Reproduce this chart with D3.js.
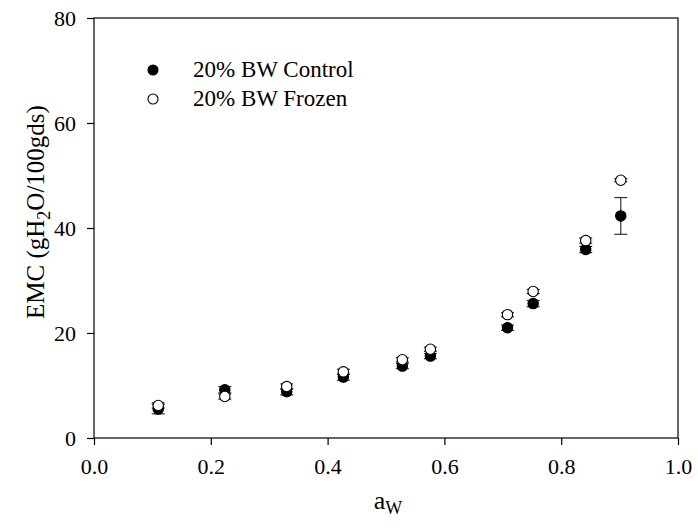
<!DOCTYPE html>
<html>
<head>
<meta charset="utf-8">
<script src="https://cdn.jsdelivr.net/npm/d3@7"></script>
<style>
  body { margin: 0; background: #fff; }
  svg { display: block; }
</style>
</head>
<body>
<div id="chart"></div>
<script>
// water activity for each measurement
const aw = [0.110, 0.224, 0.330, 0.427, 0.528, 0.576, 0.708, 0.752, 0.842, 0.902];

// EMC values (gH2O/100gds) and their error bars
const controlEmc = [5.5, 9.2, 8.8, 11.6, 13.7, 15.6, 21.0, 25.6, 35.9, 42.3];
const controlErr = [0.9, 0.6, 0.6, 0.6, 0.5, 0.5, 0.5, 0.6, 0.6, 3.5];
const frozenEmc = [6.2, 7.9, 9.8, 12.6, 14.9, 16.9, 23.5, 27.9, 37.6, 49.1];
const frozenErr = [0.5, 0.5, 0.5, 0.5, 0.4, 0.4, 0.4, 0.4, 0.5, 0.3];

const seriesNames = ['20% BW Control', '20% BW Frozen'];
const xTicks = [0, 0.2, 0.4, 0.6, 0.8, 1.0];
const yTicks = [0, 20, 40, 60, 80];

const FONT = '"Liberation Serif", Tinos, "Times New Roman", Times, "DejaVu Serif", serif';

const width = 698, height = 531;
const margin = { top: 18, right: 20, bottom: 93, left: 94 };

const svg = d3.select('#chart').append('svg')
  .attr('width', width)
  .attr('height', height)
  .attr('font-family', FONT);

const x = d3.scaleLinear().domain([0, 1]).range([margin.left, width - margin.right]);
const y = d3.scaleLinear().domain([0, 80]).range([height - margin.bottom, margin.top]);

// frame
svg.append('rect')
  .attr('x', x(0)).attr('y', y(80))
  .attr('width', x(1) - x(0)).attr('height', y(0) - y(80))
  .attr('fill', 'none').attr('stroke', '#000').attr('stroke-width', 1.2);

// axes
const xAxis = svg.append('g')
  .attr('transform', `translate(0,${y(0)})`)
  .call(d3.axisBottom(x).tickValues(xTicks).tickFormat(d3.format('.1f')).tickSizeOuter(0).tickSize(7).tickPadding(13));
const yAxis = svg.append('g')
  .attr('transform', `translate(${x(0)},0)`)
  .call(d3.axisLeft(y).tickValues(yTicks).tickSizeOuter(0).tickSize(7).tickPadding(11));

[xAxis, yAxis].forEach(a => {
  a.attr('font-family', FONT).attr('font-size', 22);
  a.select('.domain').remove();
  a.selectAll('line').attr('stroke', '#000').attr('stroke-width', 1.2);
  a.selectAll('text').attr('fill', '#000');
});

// axis titles
const xTitle = svg.append('text')
  .attr('x', 388).attr('y', 509)
  .attr('text-anchor', 'middle')
  .attr('font-size', 26);
xTitle.append('tspan').text('a');
xTitle.append('tspan').attr('dy', 5).attr('font-size', 18).text('W');

const yTitle = svg.append('text')
  .attr('transform', `translate(44,212) rotate(-90)`)
  .attr('text-anchor', 'middle')
  .attr('font-size', 25);
yTitle.append('tspan').text('EMC (gH');
yTitle.append('tspan').attr('dy', 6).attr('font-size', 18).text('2');
yTitle.append('tspan').attr('dy', -6).text('O/100gds)');

// build series from arrays
const series = [
  { name: seriesNames[0], fill: '#000', pts: aw.map((a, i) => ({ a, v: controlEmc[i], e: controlErr[i] })) },
  { name: seriesNames[1], fill: '#fff', pts: aw.map((a, i) => ({ a, v: frozenEmc[i], e: frozenErr[i] })) }
];

const capW = 6.5;
series.forEach(s => {
  const g = svg.append('g');
  const eb = g.selectAll('.eb').data(s.pts).enter().append('g')
    .attr('stroke', '#333').attr('stroke-width', 1.2);
  eb.append('line')
    .attr('x1', d => x(d.a)).attr('x2', d => x(d.a))
    .attr('y1', d => y(d.v + d.e)).attr('y2', d => y(d.v - d.e));
  eb.append('line')
    .attr('x1', d => x(d.a) - capW).attr('x2', d => x(d.a) + capW)
    .attr('y1', d => y(d.v + d.e)).attr('y2', d => y(d.v + d.e));
  eb.append('line')
    .attr('x1', d => x(d.a) - capW).attr('x2', d => x(d.a) + capW)
    .attr('y1', d => y(d.v - d.e)).attr('y2', d => y(d.v - d.e));
});

series.forEach(s => {
  svg.append('g').selectAll('circle').data(s.pts).enter().append('circle')
    .attr('cx', d => x(d.a)).attr('cy', d => y(d.v))
    .attr('r', 5.2)
    .attr('fill', s.fill)
    .attr('stroke', '#000').attr('stroke-width', 1.1);
});

// legend
const legend = svg.append('g');
series.forEach((s, i) => {
  const row = legend.append('g').attr('transform', `translate(153,${70 + i * 29})`);
  row.append('circle').attr('r', 5).attr('fill', s.fill).attr('stroke', '#000').attr('stroke-width', 1.1);
  row.append('text').attr('x', 40).attr('y', 7).attr('font-size', 23).attr('fill', '#000').text(s.name);
});
</script>
</body>
</html>
